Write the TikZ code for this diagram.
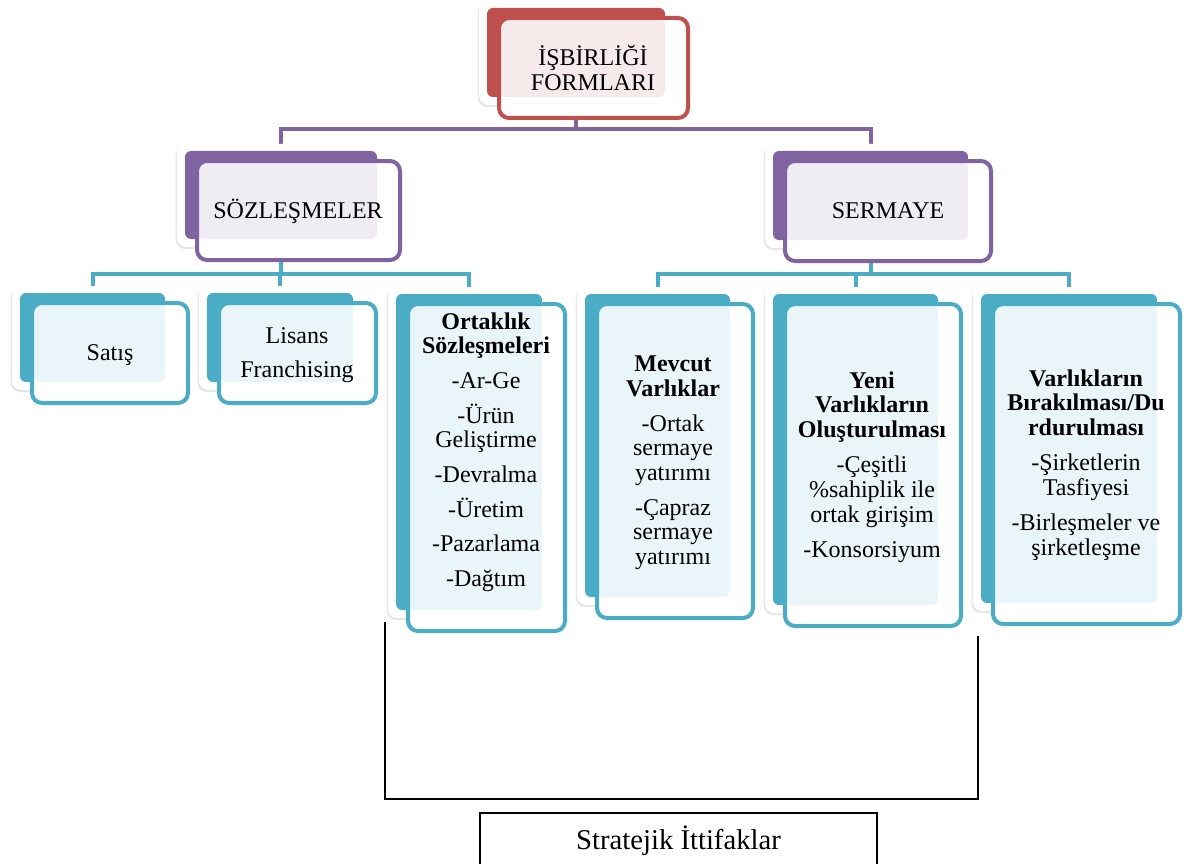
\documentclass[tikz,border=0pt]{standalone}
\usepackage{fontspec}
\setmainfont{Liberation Serif}
\usepackage{tikz}
\usetikzlibrary{fit,shadows,backgrounds}
\usepackage{xcolor}
\definecolor{ored}{HTML}{C0504D}
\definecolor{opurple}{HTML}{8064A2}
\definecolor{oteal}{HTML}{4BACC6}

\begin{document}
\begin{tikzpicture}[x=0.75pt,y=-0.75pt,
  glowbox/.style={fill=white, rounded corners=7pt,
    drop shadow={shadow xshift=-1pt, shadow yshift=-1.5pt, opacity=0.2}},
  backbox/.style={fill=#1, rounded corners=4.5pt, inner sep=0pt},
  frontbox/.style={draw=#1, line width=3pt, rounded corners=7.5pt, inner sep=0pt},
  linkline/.style={draw=#1, line width=3pt},
  bodytext/.style={font=\fontsize{18}{18.5}\selectfont, align=center, inner sep=0pt}]
\useasboundingbox (0,0) rectangle (1187,863);

% Double boxes
\foreach \n/\c/\xa/\ya/\xb/\yb in {isb/ored/487/8/665/97,
  soz/opurple/185/151/377/239, ser/opurple/773/151/968/240,
  sat/oteal/20/293/165/382, lis/oteal/207/293/353/382,
  ort/oteal/396/294/542/610, mev/oteal/585/294/730/597,
  yen/oteal/773/294/938/605, var/oteal/981/294/1157/603}{
  \fill[glowbox] (\xa-8,\ya-7) rectangle (\xb+8,\yb+8);
  \node[backbox=\c, fit={(\xa,\ya) (\xb,\yb)}] (\n) {};
  \fill[white, rounded corners=7.5pt] (\xa+12,\ya+10) rectangle (\xb+23,\yb+21);
  \fill[\c!12, rounded corners=5pt] (\xa+12,\ya+10) rectangle (\xb,\yb);
  \node[frontbox=\c, fit={(\xa+12,\ya+10) (\xb+23,\yb+21)}] (\n-f) {};
}

% Connectors, behind the boxes
\coordinate (bus1) at (0,129);
\coordinate (bus2) at (0,274);
\begin{scope}[on background layer]
\draw[linkline=opurple] (isb) -- (isb |- bus1) -| (soz);
\draw[linkline=opurple] (isb |- bus1) -| (ser);
\draw[linkline=oteal] (soz) -- (soz |- bus2) -| (sat);
\draw[linkline=oteal] (soz |- bus2) -| (lis);
\draw[linkline=oteal] (soz |- bus2) -| (ort);
\draw[linkline=oteal] (ser) -- (ser |- bus2) -| (mev);
\draw[linkline=oteal] (ser |- bus2) -| (yen);
\draw[linkline=oteal] (ser |- bus2) -| (var);
\end{scope}

% Texts
\node[bodytext] (isb-t) at (593,68) {İŞBİRLİĞİ\\FORMLARI};
\node[bodytext] (soz-t) at (298,211) {SÖZLEŞMELER};
\node[bodytext] (ser-t) at (888,211) {SERMAYE};
\node[bodytext] (sat-t) at (110,355) {Satış};
\node[bodytext] (lis-t) at (297,355) {Lisans\\[7.5pt]Franchising};
\node[bodytext] (ort-t) at (486,452) {\textbf{Ortaklık}\\\textbf{Sözleşmeleri}\\[7.5pt]-Ar-Ge\\[7.5pt]-Ürün\\Geliştirme\\[7.5pt]-Devralma\\[7.5pt]-Üretim\\[7.5pt]-Pazarlama\\[7.5pt]-Dağtım};
\node[bodytext] (mev-t) at (673,463) {\textbf{Mevcut}\\\textbf{Varlıklar}\\[7.5pt]-Ortak\\sermaye\\yatırımı\\[7.5pt]-Çapraz\\sermaye\\yatırımı};
\node[bodytext] (yen-t) at (872,467) {\textbf{Yeni}\\\textbf{Varlıkların}\\\textbf{Oluşturulması}\\[8pt]-Çeşitli\\\%sahiplik ile\\ortak girişim\\[8pt]-Konsorsiyum};
\node[bodytext] (var-t) at (1086,465) {\textbf{Varlıkların}\\\textbf{Bırakılması/Du}\\\textbf{rdurulması}\\[8pt]-Şirketlerin\\Tasfiyesi\\[8pt]-Birleşmeler ve\\şirketleşme};

% Bracket and caption
\coordinate (brl) at (385,622);
\coordinate (brb) at (680,799);
\coordinate (brr) at (978,636);
\draw[line width=1.5pt] (brl) |- (brb) -| (brr);
\node[draw, line width=1.2pt, inner sep=0pt, minimum width=297.75pt,
  minimum height=41.25pt, font=\fontsize{21.5}{24}\selectfont]
  (str) at (678.5,840.5) {Stratejik İttifaklar};
\end{tikzpicture}
\end{document}
